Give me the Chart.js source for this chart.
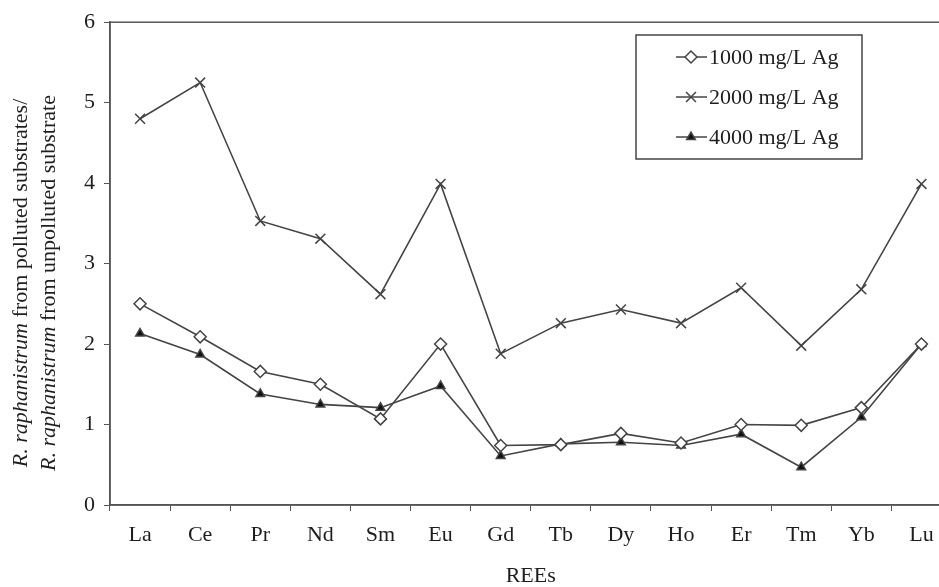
<!DOCTYPE html>
<html lang="en">
<head>
    <meta charset="UTF-8">
    <title>REE ratios - R. raphanistrum</title>
    <script src="https://cdn.jsdelivr.net/npm/chart.js"></script>
    <style>
        body {
            margin: 0;
            background: #fff;
            overflow: hidden;
        }
        #wrap {
            position: relative;
            width: 960px;
            height: 587px;
        }
    </style>
</head>
<body>
    <div id="wrap"><canvas id="chart"></canvas></div>

    <script>
        const elements = ["La", "Ce", "Pr", "Nd", "Sm", "Eu", "Gd", "Tb", "Dy", "Ho", "Er", "Tm", "Yb", "Lu"];
        const ag1000 = [2.50, 2.09, 1.66, 1.50, 1.07, 2.00, 0.74, 0.75, 0.89, 0.77, 1.00, 0.99, 1.21, 2.00];
        const ag2000 = [4.80, 5.25, 3.53, 3.31, 2.62, 3.99, 1.88, 2.26, 2.43, 2.26, 2.70, 1.98, 2.68, 3.99];
        const ag4000 = [2.13, 1.87, 1.38, 1.25, 1.21, 1.48, 0.61, 0.76, 0.78, 0.74, 0.88, 0.47, 1.09, 2.00];
        const seriesNames = ["1000 mg/L Ag", "2000 mg/L Ag", "4000 mg/L Ag"];

        const serif = "'Liberation Serif', 'Times New Roman', serif";
        const ink = "#1e1e1e";
        const lineCol = "#444";
        const fontSize = 22;

        const styles = [
            { pointStyle: "rectRot", radius: 6, fill: "#fff" },
            { pointStyle: "crossRot", radius: 7, fill: "#fff" },
            { pointStyle: "triangle", radius: 5, fill: "#111" }
        ];

        // frame round the plot area (right edge falls outside the window)
        const framePlugin = {
            id: "frame",
            beforeDatasetsDraw(chart) {
                const a = chart.chartArea, ctx = chart.ctx;
                ctx.save();
                ctx.strokeStyle = "#555";
                ctx.lineWidth = 1.5;
                ctx.strokeRect(a.left, a.top, a.right - a.left, a.bottom - a.top);
                ctx.restore();
            }
        };

        // y title: two lines, species name in italics
        const yTitlePlugin = {
            id: "yTitle",
            afterDraw(chart) {
                const ctx = chart.ctx;
                const lines = [
                    { x: 21, rest: " from polluted substrates/" },
                    { x: 49, rest: " from unpolluted substrate" }
                ];
                ctx.save();
                ctx.fillStyle = ink;
                ctx.textBaseline = "middle";
                lines.forEach(l => {
                    ctx.save();
                    ctx.translate(l.x, 283);
                    ctx.rotate(-Math.PI / 2);
                    ctx.font = "italic " + fontSize + "px " + serif;
                    const w1 = ctx.measureText("R. raphanistrum").width;
                    ctx.font = fontSize + "px " + serif;
                    const w2 = ctx.measureText(l.rest).width;
                    let x = -(w1 + w2) / 2;
                    ctx.font = "italic " + fontSize + "px " + serif;
                    ctx.fillText("R. raphanistrum", x, 0);
                    ctx.font = fontSize + "px " + serif;
                    ctx.fillText(l.rest, x + w1, 0);
                    ctx.restore();
                });
                ctx.restore();
            }
        };

        // boxed legend with line samples
        const legendPlugin = {
            id: "boxLegend",
            afterDraw(chart) {
                const ctx = chart.ctx;
                ctx.save();
                ctx.strokeStyle = "#444";
                ctx.lineWidth = 1.5;
                ctx.fillStyle = "#fff";
                ctx.fillRect(636, 35, 226, 124);
                ctx.strokeRect(636, 35, 226, 124);
                seriesNames.forEach((name, i) => {
                    const y = 57 + i * 40;
                    ctx.strokeStyle = lineCol;
                    ctx.lineWidth = 1.5;
                    ctx.beginPath();
                    ctx.moveTo(676, y);
                    ctx.lineTo(707, y);
                    ctx.stroke();
                    ctx.fillStyle = styles[i].fill;
                    Chart.helpers.drawPoint(ctx, {
                        pointStyle: styles[i].pointStyle,
                        radius: styles[i].radius,
                        rotation: 0,
                        borderWidth: 1.5
                    }, 691, y);
                    ctx.fillStyle = ink;
                    ctx.font = fontSize + "px " + serif;
                    ctx.textBaseline = "middle";
                    ctx.fillText(name, 709, y + 1);
                });
                ctx.restore();
            }
        };

        function makeSet(label, data, s) {
            return {
                label: label,
                data: data,
                borderColor: lineCol,
                borderWidth: 1.6,
                pointStyle: s.pointStyle,
                pointRadius: s.radius,
                pointBackgroundColor: s.fill,
                pointBorderColor: lineCol,
                pointBorderWidth: 1.5,
                fill: false,
                tension: 0
            };
        }

        new Chart(document.getElementById("chart"), {
            type: "line",
            data: {
                labels: elements,
                datasets: [
                    makeSet(seriesNames[0], ag1000, styles[0]),
                    makeSet(seriesNames[1], ag2000, styles[1]),
                    makeSet(seriesNames[2], ag4000, styles[2])
                ]
            },
            options: {
                responsive: true,
                maintainAspectRatio: false,
                animation: false,
                layout: { padding: { top: 21, right: 4, left: 0, bottom: 0 } },
                plugins: {
                    legend: { display: false },
                    tooltip: { enabled: false }
                },
                scales: {
                    x: {
                        offset: true,
                        grid: { drawOnChartArea: false, drawTicks: true, tickLength: 6, color: "#555", offset: true },
                        border: { display: true, color: "#555", width: 1.5 },
                        ticks: { color: ink, padding: 11, maxRotation: 0, font: { family: serif, size: fontSize } },
                        title: {
                            display: true,
                            text: "REEs",
                            color: ink,
                            padding: 0,
                            font: { family: serif, size: fontSize, lineHeight: 1 }
                        },
                        afterFit(scale) { scale.height = 82; }
                    },
                    y: {
                        min: 0,
                        max: 6,
                        ticks: { stepSize: 1, color: ink, padding: 9, font: { family: serif, size: fontSize } },
                        grid: { drawOnChartArea: false, drawTicks: true, tickLength: 6, color: "#555" },
                        border: { display: true, color: "#555", width: 1.5 },
                        afterFit(scale) { scale.width = 110; }
                    }
                }
            },
            plugins: [framePlugin, yTitlePlugin, legendPlugin]
        });
    </script>
</body>
</html>
